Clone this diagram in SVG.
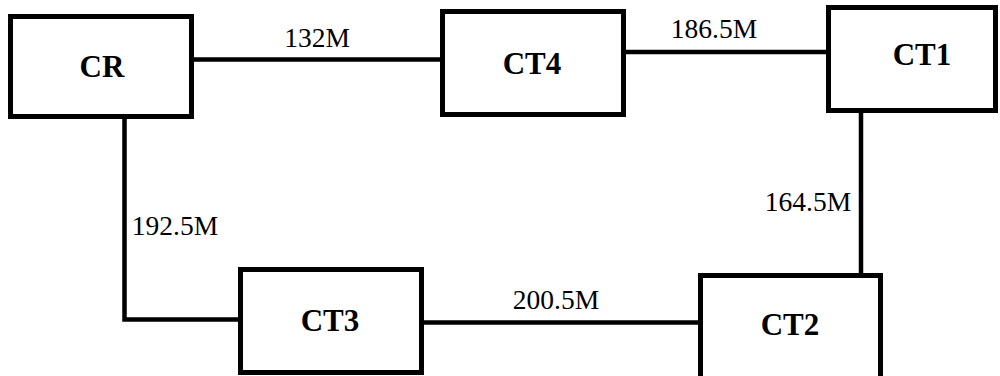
<svg xmlns="http://www.w3.org/2000/svg" width="1000" height="376" viewBox="0 0 1000 376">
<style>
.box{fill:#fff;stroke:#000;stroke-width:5}
.name{font-family:"Liberation Serif","Times New Roman",serif;font-weight:bold;font-size:31px;fill:#000;text-anchor:middle}
.lbl{font-family:"Liberation Serif","Times New Roman",serif;font-size:27.5px;fill:#000;text-anchor:middle}
.conn{fill:none;stroke:#000;stroke-width:4.5}
</style>
<rect width="1000" height="376" fill="#fff"/>
<g id="connectors">
<path class="conn" d="M194 59.5H440"/>
<path class="conn" d="M626 52H826"/>
<path class="conn" d="M861 113V273"/>
<path class="conn" d="M124.5 119V319.5H238"/>
<path class="conn" d="M424 322.5H698"/>
<text class="lbl" x="317" y="47">132M</text>
<text class="lbl" x="714" y="38">186.5M</text>
<text class="lbl" x="808" y="211">164.5M</text>
<text class="lbl" x="175" y="235">192.5M</text>
<text class="lbl" x="556" y="309">200.5M</text>
</g>
<g id="CR"><rect class="box" x="10.5" y="16.5" width="181" height="100"/><text class="name" x="102" y="77">CR</text></g>
<g id="CT4"><rect class="box" x="442.5" y="11.5" width="181" height="103"/><text class="name" x="532" y="74">CT4</text></g>
<g id="CT1"><rect class="box" x="828.5" y="7.5" width="167" height="103"/><text class="name" x="922" y="65">CT1</text></g>
<g id="CT2"><rect class="box" x="700.5" y="275.5" width="180" height="110"/><text class="name" x="790" y="335">CT2</text></g>
<g id="CT3"><rect class="box" x="240.5" y="269.5" width="181" height="103"/><text class="name" x="330" y="331">CT3</text></g>
</svg>
